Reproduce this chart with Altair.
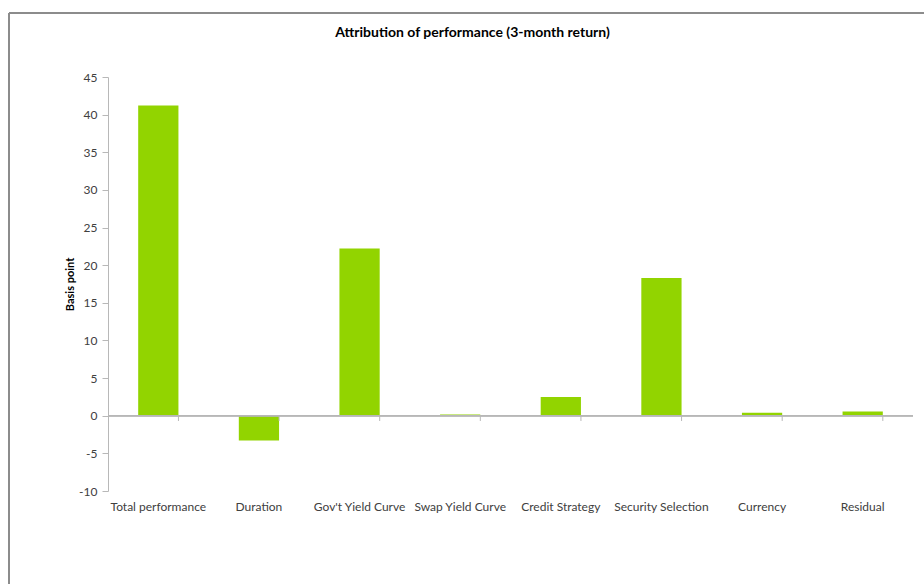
import altair as alt
import pandas as pd

categories = ["Total performance", "Duration", "Gov't Yield Curve", "Swap Yield Curve",
              "Credit Strategy", "Security Selection", "Currency", "Residual"]
values = [41.2, -3.3, 22.2, 0.15, 2.5, 18.3, 0.4, 0.55]
y_ticks = [-10, -5, 0, 5, 10, 15, 20, 25, 30, 35, 40, 45]

df = pd.DataFrame({"category": categories, "value": values})

W, H = 805, 414
GREEN = "#92D400"
AXIS_GRAY = "#B8B8B8"
TEXT = "#404040"
FONT = "Lato"

xscale = alt.Scale(domain=categories, paddingInner=0.6, paddingOuter=0.3)
yscale = alt.Scale(domain=[-10, 45], nice=False, zero=False)

x_axis = alt.Axis(title=None, domain=False, ticks=False, labelAngle=0,
                  labelPadding=10, labelFontSize=12, labelColor=TEXT,
                  labelFont=FONT)
y_axis = alt.Axis(values=y_ticks, labelOverlap=False,
                  labelExpr="toString(datum.value)",
                  title="Basis point", grid=False,
                  domainColor=AXIS_GRAY, tickColor=AXIS_GRAY, tickSize=6,
                  labelFontSize=12, labelColor=TEXT, labelFont=FONT,
                  labelPadding=5, titleFont=FONT, titleFontSize=11,
                  titleFontWeight="bold", titleColor="#000000",
                  titlePadding=3)

base = alt.Chart(df)

bars = base.mark_bar(color=GREEN).encode(
    x=alt.X("category:N", scale=xscale, sort=categories, axis=x_axis),
    y=alt.Y("value:Q", scale=yscale, axis=y_axis),
    y2=alt.datum(0),
)

zero_line = base.mark_rule(color=AXIS_GRAY, strokeWidth=1).encode(
    y=alt.Y(datum=0, scale=yscale, axis=y_axis), x=alt.value(0), x2=alt.value(W)
)

cat_ticks = base.mark_rule(color=AXIS_GRAY, strokeWidth=1).encode(
    x=alt.X("category:N", scale=xscale, sort=categories, bandPosition=1, axis=x_axis),
    y=alt.Y(datum=0, scale=yscale, axis=y_axis),
    y2=alt.datum(-0.7),
)

frame_top = base.mark_rule(color="#8C8C8C", strokeWidth=1.5, clip=False).encode(
    x=alt.value(-99), x2=alt.value(830), y=alt.value(-64)
)
frame_left = base.mark_rule(color="#8C8C8C", strokeWidth=1.5, clip=False).encode(
    x=alt.value(-99), y=alt.value(-64), y2=alt.value(520)
)

chart = alt.layer(frame_top, frame_left, bars, zero_line, cat_ticks).properties(
    width=W, height=H,
    background="white",
    title=alt.TitleParams("Attribution of performance (3-month return)",
                          anchor="middle", dx=-38, offset=-28, font=FONT,
                          fontSize=14, fontWeight="bold", color="#000000"),
    autosize=alt.AutoSizeParams(type="none"),
    padding={"left": 108, "top": 77, "right": 11, "bottom": 93},
).configure_view(strokeWidth=0)

chart.save("out.html", embed_options={"renderer": "svg", "actions": False})
